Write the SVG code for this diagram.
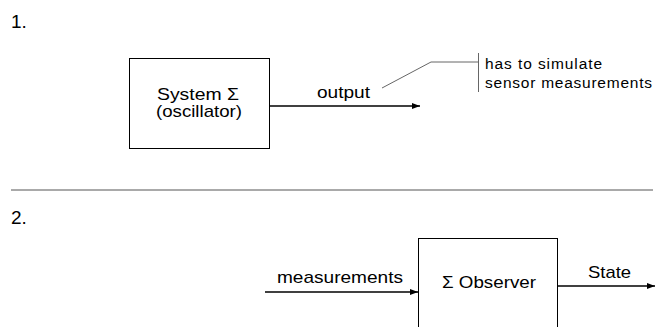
<svg xmlns="http://www.w3.org/2000/svg" width="655" height="327" viewBox="0 0 655 327">
<style>
text{font-family:"Liberation Sans",Arial,sans-serif;fill:#000}
.lbl{font-size:17px}
.num{font-size:19px}
.note{font-size:15.5px}
.box{fill:#fff;stroke:#000;stroke-width:1}
.conn{stroke:#000;stroke-width:1.5;fill:none}
.call{stroke:#666;stroke-width:1;fill:none}
</style>
<defs>
<marker id="ah" viewBox="0 0 8 6" refX="8" refY="3" markerWidth="8" markerHeight="6" markerUnits="userSpaceOnUse" orient="auto">
<path d="M0,0 L8,3 L0,6 Z" fill="#000"/>
</marker>
</defs>
<rect width="655" height="327" fill="#fff"/>
<text class="num" x="11" y="27.5">1.</text>
<text class="num" x="11" y="224">2.</text>
<line x1="11" y1="190" x2="653" y2="190" stroke="#555" stroke-width="1"/>
<g id="system">
<rect class="box" x="129.5" y="58.5" width="140" height="90"/>
<text class="lbl" x="157" y="99.5" textLength="82" lengthAdjust="spacingAndGlyphs">System Σ</text>
<text class="lbl" x="156" y="117" textLength="86" lengthAdjust="spacingAndGlyphs">(oscillator)</text>
</g>
<g id="observer">
<rect class="box" x="418.5" y="238.5" width="139" height="110"/>
<text class="lbl" x="442" y="288" textLength="94" lengthAdjust="spacingAndGlyphs">Σ Observer</text>
</g>
<g id="note">
<polyline class="call" points="382,88 431,62 478,62"/>
<line class="call" x1="478.5" y1="53" x2="478.5" y2="92"/>
<text class="note" x="485" y="69" textLength="117" lengthAdjust="spacing">has to simulate</text>
<text class="note" x="485" y="88" textLength="167" lengthAdjust="spacing">sensor measurements</text>
</g>
<g id="connectors">
<line class="conn" x1="269" y1="106" x2="420" y2="106" marker-end="url(#ah)"/>
<text class="lbl" x="317" y="97.5" textLength="53" lengthAdjust="spacingAndGlyphs">output</text>
<line class="conn" x1="265" y1="292" x2="418" y2="292" marker-end="url(#ah)"/>
<text class="lbl" x="277" y="283" textLength="126" lengthAdjust="spacingAndGlyphs">measurements</text>
<line class="conn" x1="557" y1="286" x2="655" y2="286" marker-end="url(#ah)"/>
<text class="lbl" x="588" y="277.5" textLength="43" lengthAdjust="spacingAndGlyphs">State</text>
</g>
</svg>
